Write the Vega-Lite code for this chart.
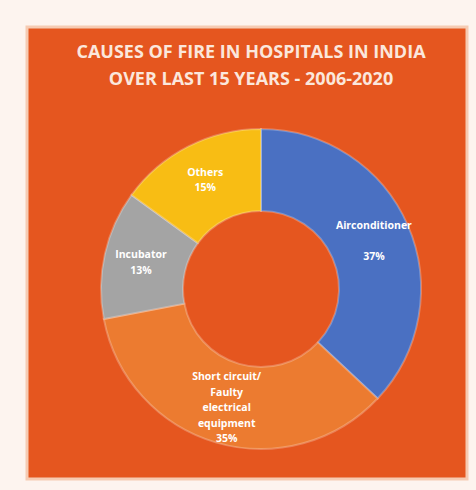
{
  "$schema": "https://vega.github.io/schema/vega-lite/v6.json",
  "width": 440,
  "height": 452,
  "padding": {"left": 25, "top": 25, "right": 11, "bottom": 13},
  "background": "#fdf4ef",
  "title": {
    "text": ["CAUSES OF FIRE IN HOSPITALS IN INDIA", "OVER LAST 15 YEARS - 2006-2020"],
    "font": "Open Sans",
    "fontSize": 18,
    "fontWeight": "bold",
    "color": "#fbe7dc",
    "lineHeight": 27,
    "anchor": "middle",
    "frame": "group",
    "offset": -63,
    "dx": 4
  },
  "data": {
    "values": [
      {"cause": "Airconditioner", "pct": 37, "label": "Airconditioner\n\u2800\n37%", "o": 1},
      {"cause": "Short circuit/ Faulty electrical equipment", "pct": 35, "label": "Short circuit/\nFaulty\nelectrical\nequipment\n35%", "o": 2},
      {"cause": "Incubator", "pct": 13, "label": "Incubator\n13%", "o": 3},
      {"cause": "Others", "pct": 15, "label": "Others\n15%", "o": 4}
    ]
  },
  "layer": [
    {
      "data": {"values": [{}]},
      "mark": {"type": "rect", "fill": "#e5561f", "stroke": "#f6cbb3", "strokeWidth": 3},
      "encoding": {}
    },
    {
      "mark": {"type": "arc", "outerRadius": 160, "innerRadius": 78, "xOffset": 14, "yOffset": 36, "stroke": "#ffffff", "strokeOpacity": 0.25, "strokeWidth": 2},
      "encoding": {
        "theta": {"field": "pct", "type": "quantitative", "stack": true},
        "order": {"field": "o", "type": "quantitative"},
        "color": {
          "field": "cause",
          "type": "nominal",
          "scale": {
            "domain": ["Airconditioner", "Short circuit/ Faulty electrical equipment", "Incubator", "Others"],
            "range": ["#4a70c2", "#ec7b30", "#a4a4a4", "#f8bd14"]
          },
          "legend": null
        }
      }
    },
    {
      "mark": {"type": "text", "radius": 123, "xOffset": 14, "yOffset": 37, "dy": {"expr": "-(length(split(datum.label, '\\n')) - 1) * 15.5 / 2"}, "lineBreak": "\n", "lineHeight": 15.5, "font": "Open Sans", "fontSize": 10.5, "fontWeight": "bold", "color": "#ffffff", "align": "center", "baseline": "middle"},
      "encoding": {
        "theta": {"field": "pct", "type": "quantitative", "stack": true},
        "order": {"field": "o", "type": "quantitative"},
        "text": {"field": "label", "type": "nominal"}
      }
    }
  ]
}
